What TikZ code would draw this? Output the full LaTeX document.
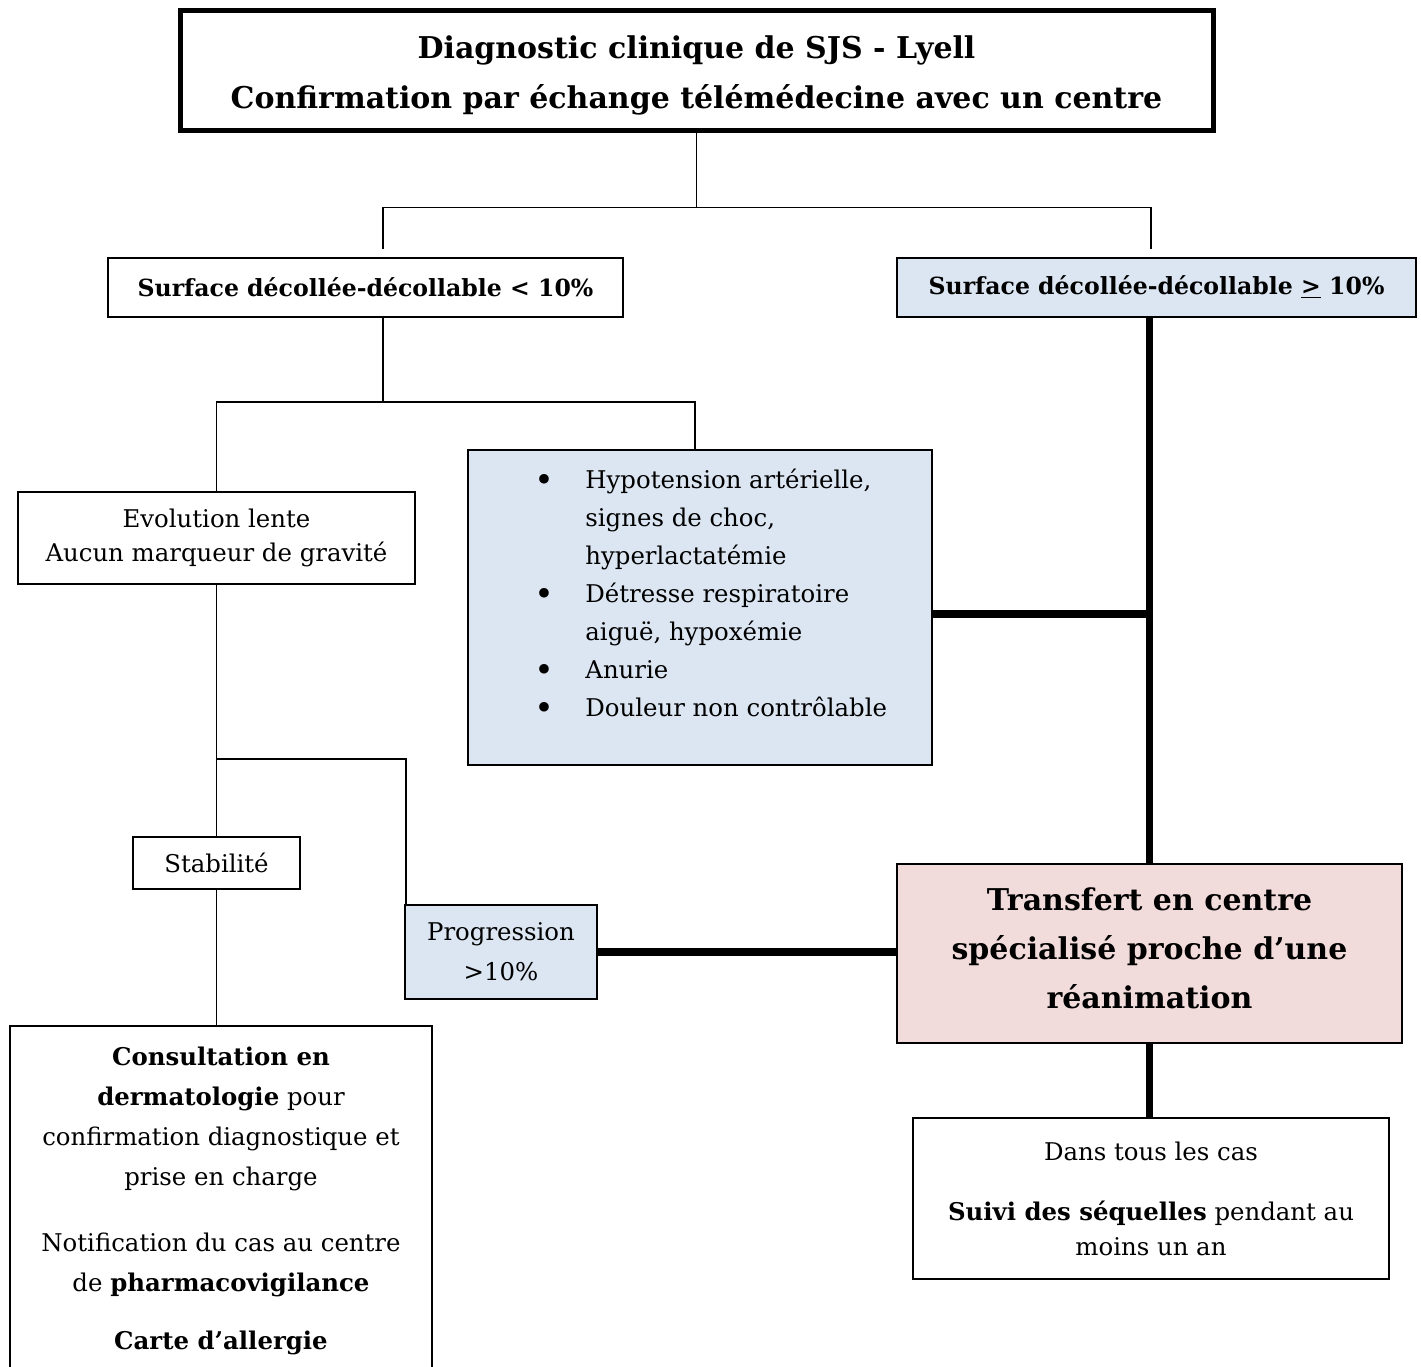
\documentclass[tikz,border=0pt]{standalone}
\usepackage{fontspec}
\setmainfont{DejaVu Serif}
\usetikzlibrary{calc, backgrounds}
\definecolor{bleuclair}{HTML}{DCE6F2}
\definecolor{roseclair}{HTML}{F2DCDB}
\newcommand{\puce}{\makebox[24pt][l]{\hspace*{-1.5pt}\raisebox{-1.5pt}{\scalebox{1.35}{\textbullet}}}}
\newcommand{\retrait}{\hspace*{24pt}}

\begin{document}
\begin{tikzpicture} [
    x=0.5pt, y=-0.5pt,
    boite/.style={rectangle, draw=black, line width=1pt, fill=white, align=center, inner sep=0pt, font=\fontsize{12.2}{17}\selectfont},
    bleue/.style={boite, fill=bleuclair},
    rose/.style={boite, fill=roseclair, font=\bfseries\fontsize{15}{24.5}\selectfont},
    cadre/.style={boite, line width=2.5pt, font=\bfseries\fontsize{15}{25}\selectfont},
    critere/.style={font=\bfseries\fontsize{11.8}{14}\selectfont, minimum width=257.5pt, minimum height=29.5pt},
    texte/.style={align=center, inner sep=0pt, font=\fontsize{12.2}{20}\selectfont},
    liste/.style={align=left, inner sep=0pt, font=\fontsize{12.2}{19}\selectfont},
    lien/.style={line width=0.75pt},
    lienfort/.style={line width=3.75pt}
]
\useasboundingbox (0,0) rectangle (1421,1367);
\clip (0,0) rectangle (1421,1367);

% Layer 1: Define all nodes first (foreground)
\node[cadre, minimum width=516.5pt, minimum height=60pt] (diag) at (696.5,70) {\rule{0pt}{17pt}Diagnostic clinique de SJS - Lyell\\Confirmation par échange télémédecine avec un centre};
\node[boite, critere] (moins) at (365.5,287.5) {Surface décollée-décollable < 10\%};
\node[bleue, critere, minimum width=259.5pt] (plus) at (1156.5,287.5) {Surface décollée-décollable \underline{>} 10\%};
\node[boite, minimum width=198.5pt, minimum height=46pt] (lente) at (216.5,538) {Evolution lente\\Aucun marqueur de gravité};
\node[bleue, minimum width=232pt, minimum height=157.5pt] (gravite) at (700,607.5) {};
\node[liste, anchor=north west] (signes) at (537,469) {\puce Hypotension artérielle,\\\retrait signes de choc,\\\retrait hyperlactatémie\\\puce Détresse respiratoire\\\retrait aiguë, hypoxémie\\\puce Anurie\\\puce Douleur non contrôlable};
\node[boite, minimum width=83.5pt, minimum height=26pt] (stab) at (216.5,863) {Stabilité};
\node[bleue, font=\fontsize{12.2}{20}\selectfont, minimum width=96pt, minimum height=47pt] (prog) at (501,952) {Progression\\>10\%};
\node[rose, minimum width=252.5pt, minimum height=89.5pt] (transfert) at (1149.5,953.5) {Transfert en centre\\spécialisé proche d’une\\réanimation\rule[-5.5pt]{0pt}{5.5pt}};
\node[boite, font=\fontsize{12.2}{17.5}\selectfont, minimum width=238pt, minimum height=80.5pt] (suivi) at (1151,1198.5) {Dans tous les cas\\[12.5pt]\textbf{Suivi des séquelles} pendant au\\moins un an};
\node[boite, minimum width=211pt, minimum height=190pt, anchor=north] (consult) at (221,1025) {};
\node[texte, anchor=north] (conduite) at (221,1047) {\textbf{Consultation en}\\\textbf{dermatologie} pour\\confirmation diagnostique et\\prise en charge\\[13pt]Notification du cas au centre\\de \textbf{pharmacovigilance}\\[9pt]\textbf{Carte d’allergie}};

% Layer 2: Draw all connectors in background
\begin{scope}[on background layer]
    % Diagnostic vers les deux surfaces
    \path (diag.south) ++(0,75) coordinate (j1);
    \draw[lien] (diag.south) -- (j1);
    \draw[lien, shorten >=4pt] (j1) -| ([xshift=8.75pt]moins.north);
    \draw[lien, shorten >=4pt] (j1) -| ([xshift=-2.75pt]plus.north);

    % Surface < 10%
    \path ([xshift=8.75pt]moins.south) ++(0,84) coordinate (j2);
    \draw[lien] ([xshift=8.75pt]moins.south) -- (j2);
    \draw[lien] (j2) -| (lente.north);
    \draw[lien] (j2) -| ([xshift=-2.5pt]gravite.north);

    % Evolution lente
    \path (lente.south) ++(0,174) coordinate (j3);
    \draw[lien] (lente.south) -- (stab.north);
    \draw[lien] (j3) -| ([xshift=1pt]prog.north west);
    \draw[lien] (stab.south) -- (stab.south |- consult.north);

    % Vers le transfert
    \coordinate (g) at ([yshift=-3.25pt]gravite.east);
    \draw[lienfort] (prog.east) -- (prog.east -| transfert.west);
    \draw[lienfort] (transfert.north |- plus.south) -- (transfert.north);
    \draw[lienfort] (g) -- (g -| transfert.north);
    \draw[lienfort] (transfert.south) -- (transfert.south |- suivi.north);
\end{scope}

\end{tikzpicture}
\end{document}
